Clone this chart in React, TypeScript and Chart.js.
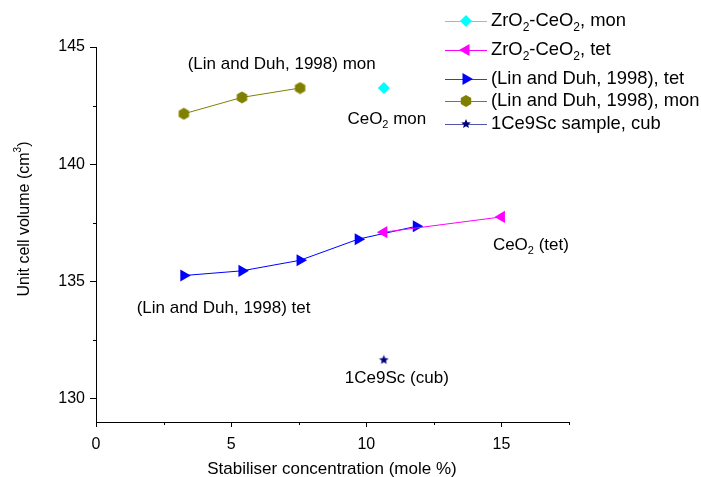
import React, { useEffect, useRef } from 'react';
import { Chart, registerables } from 'chart.js';

Chart.register(...registerables);

// ---- data ----
const ldMonX = [3.25, 5.4, 7.55];
const ldMonY = [142.15, 142.85, 143.25];
const ldTetX = [3.25, 5.4, 7.55, 9.7, 11.85];
const ldTetY = [135.25, 135.45, 135.9, 136.8, 137.35];
const zcMonX = [10.65];
const zcMonY = [143.25];
const zcTetX = [10.65, 15];
const zcTetY = [137.1, 137.75];
const cubX = [10.65];
const cubY = [131.65];

const xTicks = [0, 5, 10, 15];
const yTicks = [130, 135, 140, 145];
const xMinor = [2.5, 7.5, 12.5, 17.5];
const yMinor = [132.5, 137.5, 142.5];

const seriesNames = [
  'ZrO_2-CeO_2, mon',
  'ZrO_2-CeO_2, tet',
  '(Lin and Duh, 1998), tet',
  '(Lin and Duh, 1998), mon',
  '1Ce9Sc sample, cub',
];

// annotation texts anchored in data coordinates (centre of text)
const noteTexts = ['(Lin and Duh, 1998) mon', 'CeO_2 mon', '(Lin and Duh, 1998) tet', 'CeO_2 (tet)', '1Ce9Sc (cub)'];
const noteX = [6.87, 10.76, 4.72, 16.09, 11.13];
const noteY = [144.27, 141.93, 133.87, 136.55, 130.85];

const xTitle = 'Stabiliser concentration (mole %)';
const yTitle = 'Unit cell volume (cm^3)';

const FONT = '"Liberation Sans", Arial, sans-serif';
const C_CYAN = '#00FFFF';
const C_MAG = '#FF00FF';
const C_BLUE = '#0000FF';
const C_OLIVE = '#808000';
const C_NAVY = '#000080';

const pts = (xs: number[], ys: number[]) => xs.map((x, i) => ({ x, y: ys[i] }));

type Part = { t: string; m: 0 | 1 | 2 };
function parse(s: string): Part[] {
  const out: Part[] = [];
  let buf = '';
  for (let i = 0; i < s.length; i++) {
    const ch = s[i];
    if ((ch === '_' || ch === '^') && i + 1 < s.length) {
      if (buf) out.push({ t: buf, m: 0 });
      buf = '';
      out.push({ t: s[i + 1], m: ch === '_' ? 1 : 2 });
      i++;
    } else buf += ch;
  }
  if (buf) out.push({ t: buf, m: 0 });
  return out;
}

function drawRich(ctx: CanvasRenderingContext2D, s: string, x: number, y: number, size: number, align: 'left' | 'center') {
  const parts = parse(s);
  const small = Math.round(size * 0.65);
  let w = 0;
  for (const p of parts) {
    ctx.font = `${p.m ? small : size}px ${FONT}`;
    w += ctx.measureText(p.t).width;
  }
  let cx = align === 'center' ? x - w / 2 : x;
  ctx.textBaseline = 'middle';
  ctx.textAlign = 'left';
  ctx.fillStyle = '#000';
  for (const p of parts) {
    ctx.font = `${p.m ? small : size}px ${FONT}`;
    const dy = p.m === 1 ? size * 0.35 : p.m === 2 ? -size * 0.42 : 0;
    ctx.fillText(p.t, cx, y + dy);
    cx += ctx.measureText(p.t).width;
  }
}

function hexPath(g: CanvasRenderingContext2D, cx: number, cy: number, r: number, color: string) {
  g.beginPath();
  for (let k = 0; k < 6; k++) {
    const a = (-90 + k * 60) * Math.PI / 180;
    const px = cx + r * Math.cos(a);
    const py = cy + r * Math.sin(a);
    if (k === 0) g.moveTo(px, py); else g.lineTo(px, py);
  }
  g.closePath();
  g.fillStyle = color;
  g.fill();
}

function starPath(g: CanvasRenderingContext2D, cx: number, cy: number, r: number, color: string) {
  g.beginPath();
  for (let k = 0; k < 10; k++) {
    const a = (-90 + k * 36) * Math.PI / 180;
    const rr = k % 2 === 0 ? r : r * 0.45;
    const px = cx + rr * Math.cos(a);
    const py = cy + rr * Math.sin(a);
    if (k === 0) g.moveTo(px, py); else g.lineTo(px, py);
  }
  g.closePath();
  g.fillStyle = color;
  g.fill();
}

function triPath(g: CanvasRenderingContext2D, cx: number, cy: number, r: number, rotDeg: number, color: string) {
  g.beginPath();
  let rad = rotDeg * Math.PI / 180;
  for (let k = 0; k < 3; k++) {
    const px = cx + Math.sin(rad) * r;
    const py = cy - Math.cos(rad) * r;
    if (k === 0) g.moveTo(px, py); else g.lineTo(px, py);
    rad += (2 * Math.PI) / 3;
  }
  g.closePath();
  g.fillStyle = color;
  g.fill();
}

function diamondPath(g: CanvasRenderingContext2D, cx: number, cy: number, r: number, color: string) {
  g.beginPath();
  g.moveTo(cx, cy - r);
  g.lineTo(cx + r, cy);
  g.lineTo(cx, cy + r);
  g.lineTo(cx - r, cy);
  g.closePath();
  g.fillStyle = color;
  g.fill();
}

function makeCanvas(size: number, draw: (g: CanvasRenderingContext2D, c: number) => void) {
  const c = document.createElement('canvas');
  c.width = size;
  c.height = size;
  const g = c.getContext('2d')!;
  draw(g, size / 2);
  return c;
}

export default function App() {
  const ref = useRef<HTMLCanvasElement | null>(null);

  useEffect(() => {
    if (!ref.current) return;
    const hexImg = makeCanvas(13, (g, c) => hexPath(g, c, c, 6, C_OLIVE));
    const starImg = makeCanvas(11, (g, c) => starPath(g, c, c, 5, C_NAVY));

    const overlay = {
      id: 'overlay',
      afterDraw(chart: any) {
        const ctx: CanvasRenderingContext2D = chart.ctx;
        const xs = chart.scales.x;
        const ys = chart.scales.y;
        const area = chart.chartArea;
        ctx.save();
        // minor ticks
        ctx.strokeStyle = '#000';
        ctx.lineWidth = 1;
        ctx.beginPath();
        for (const v of xMinor) {
          const px = Math.round(xs.getPixelForValue(v)) + 0.5;
          ctx.moveTo(px, area.bottom);
          ctx.lineTo(px, area.bottom + 3);
        }
        for (const v of yMinor) {
          const py = Math.round(ys.getPixelForValue(v)) + 0.5;
          ctx.moveTo(area.left, py);
          ctx.lineTo(area.left - 3, py);
        }
        ctx.stroke();

        // annotations
        noteTexts.forEach((t, i) => {
          drawRich(ctx, t, xs.getPixelForValue(noteX[i]), ys.getPixelForValue(noteY[i]), 17, 'center');
        });

        // axis titles
        drawRich(ctx, xTitle, (area.left + area.right) / 2 - 0.5, 469, 17, 'center');
        ctx.save();
        ctx.translate(25, 219);
        ctx.rotate(-Math.PI / 2);
        drawRich(ctx, yTitle, 0, 0, 16, 'center');
        ctx.restore();

        // legend
        const rowsY = [21, 50, 79, 101, 124];
        const colors = [C_CYAN, C_MAG, C_BLUE, C_OLIVE, C_NAVY];
        const lineColors = [C_CYAN, C_MAG, '#3333FF', C_OLIVE, '#5555AA'];
        const lx0 = 445, lx1 = 487, mx = 466, tx = 491;
        seriesNames.forEach((name, i) => {
          const y = rowsY[i];
          ctx.strokeStyle = lineColors[i];
          ctx.lineWidth = 1;
          ctx.beginPath();
          ctx.moveTo(lx0, y + 0.5);
          ctx.lineTo(lx1, y + 0.5);
          ctx.stroke();
          const col = colors[i];
          if (i === 0) diamondPath(ctx, mx, y, 6, col);
          else if (i === 1) triPath(ctx, mx, y, 7, -90, col);
          else if (i === 2) triPath(ctx, mx, y, 7, 90, col);
          else if (i === 3) hexPath(ctx, mx, y, 6, col);
          else starPath(ctx, mx, y, 5, col);
          drawRich(ctx, name, tx, y, 18.4, 'left');
        });
        ctx.restore();
      },
    };

    const chart = new Chart(ref.current, {
      type: 'scatter',
      data: {
        datasets: [
          {
            label: seriesNames[0],
            data: pts(zcMonX, zcMonY),
            borderColor: C_CYAN,
            backgroundColor: C_CYAN,
            pointStyle: 'rectRot',
            pointRadius: 6,
            pointBorderWidth: 0,
            showLine: true,
            borderWidth: 1,
          },
          {
            label: seriesNames[1],
            data: pts(zcTetX, zcTetY),
            borderColor: C_MAG,
            backgroundColor: C_MAG,
            pointStyle: 'triangle',
            pointRotation: -90,
            pointRadius: 7,
            pointBorderWidth: 0,
            showLine: true,
            borderWidth: 1,
          },
          {
            label: seriesNames[2],
            data: pts(ldTetX, ldTetY),
            borderColor: C_BLUE,
            backgroundColor: C_BLUE,
            pointStyle: 'triangle',
            pointRotation: 90,
            pointRadius: 7,
            pointBorderWidth: 0,
            showLine: true,
            borderWidth: 1,
          },
          {
            label: seriesNames[3],
            data: pts(ldMonX, ldMonY),
            borderColor: C_OLIVE,
            backgroundColor: C_OLIVE,
            pointStyle: hexImg as any,
            pointRadius: 6,
            showLine: true,
            borderWidth: 1,
          },
          {
            label: seriesNames[4],
            data: pts(cubX, cubY),
            borderColor: C_NAVY,
            backgroundColor: C_NAVY,
            pointStyle: starImg as any,
            pointRadius: 5,
            showLine: false,
            borderWidth: 1,
          },
        ],
      },
      options: {
        responsive: false,
        animation: false,
        devicePixelRatio: 1,
        layout: { padding: { left: 0, right: 132, top: 47, bottom: 0 } },
        plugins: { legend: { display: false }, tooltip: { enabled: false } },
        scales: {
          x: {
            type: 'linear',
            min: 0,
            max: 17.5,
            afterFit: (s: any) => { s.height = 55; },
            afterBuildTicks: (s: any) => { s.ticks = xTicks.map((v) => ({ value: v })); },
            grid: { drawOnChartArea: false, drawTicks: true, tickLength: 5, color: '#000', lineWidth: 1 },
            border: { display: true, color: '#000', width: 1 },
            ticks: { color: '#000', padding: 8, font: { family: FONT, size: 16 }, maxRotation: 0, autoSkip: false },
          },
          y: {
            type: 'linear',
            min: 129,
            max: 145,
            afterFit: (s: any) => { s.width = 96; },
            afterBuildTicks: (s: any) => { s.ticks = yTicks.map((v) => ({ value: v })); },
            grid: { drawOnChartArea: false, drawTicks: true, tickLength: 6, color: '#000', lineWidth: 1 },
            border: { display: true, color: '#000', width: 1 },
            ticks: { color: '#000', padding: 5, font: { family: FONT, size: 16 }, autoSkip: false },
          },
        },
      },
      plugins: [overlay],
    });
    return () => chart.destroy();
  }, []);

  return (
    <div style={{ position: 'fixed', left: 0, top: 0, width: 701, height: 477, background: '#fff' }}>
      <canvas ref={ref} width={701} height={477} style={{ width: 701, height: 477, display: 'block' }} />
    </div>
  );
}
